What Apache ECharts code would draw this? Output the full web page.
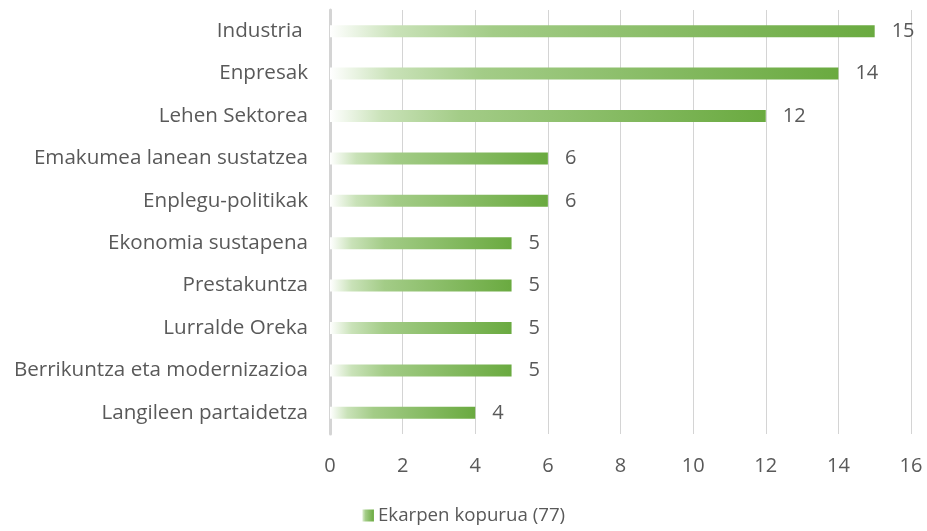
<!DOCTYPE html>
<html>
<head>
<meta charset="utf-8">
<script src="https://cdn.jsdelivr.net/npm/echarts@6/dist/echarts.min.js"></script>
<style>
  html, body { margin: 0; padding: 0; background: #fff; }
  #chart { width: 927px; height: 531px; }
</style>
</head>
<body>
<div id="chart"></div>
<script>
// Categories listed bottom to top (category axis starts at the bottom)
const categories = [
  'Langileen partaidetza',
  'Berrikuntza eta modernizazioa',
  'Lurralde Oreka',
  'Prestakuntza',
  'Ekonomia sustapena',
  'Enplegu-politikak',
  'Emakumea lanean sustatzea',
  'Lehen Sektorea',
  'Enpresak',
  'Industria '
];
const values = [4, 5, 5, 5, 5, 6, 6, 12, 14, 15];
const seriesName = 'Ekarpen kopurua (77)';
const xTicks = [0, 2, 4, 6, 8, 10, 12, 14, 16];

const FONT = '"Open Sans", sans-serif';
const TEXT = '#595959';
const SIZE = 20;

// Horizontal fade from white to green along each bar
const barGradient = new echarts.graphic.LinearGradient(0, 0, 1, 0, [
  { offset: 0, color: 'rgba(255,255,255,1)' },
  { offset: 0.12, color: '#c9e2b8' },
  { offset: 0.3, color: '#a3cc87' },
  { offset: 1, color: '#6aaa40' }
]);

const chart = echarts.init(document.getElementById('chart'), null, { renderer: 'canvas' });
chart.setOption({
  animation: false,
  textStyle: { fontFamily: FONT },
  grid: { left: 330, right: 16, top: 10, bottom: 97, containLabel: false },
  xAxis: {
    type: 'value',
    min: xTicks[0],
    max: xTicks[xTicks.length - 1],
    interval: 2,
    axisLine: { show: false },
    axisTick: { show: false },
    splitLine: { show: true, lineStyle: { color: '#d4d4d4', width: 1 } },
    axisLabel: { color: TEXT, fontSize: SIZE, fontFamily: FONT, margin: 22 }
  },
  yAxis: {
    type: 'category',
    data: categories,
    axisLine: { show: true, lineStyle: { color: '#d4d4d4', width: 3 } },
    axisTick: { show: false },
    axisLabel: { color: TEXT, fontSize: 20.6, fontFamily: FONT, margin: 22 }
  },
  legend: {
    bottom: 1,
    left: 'center',
    itemWidth: 12,
    itemHeight: 12,
    itemGap: 6,
    icon: 'rect',
    textStyle: { color: TEXT, fontSize: 18.7, fontFamily: FONT, padding: [0, 0, 0, -1] },
    data: [seriesName]
  },
  series: [{
    name: seriesName,
    type: 'bar',
    data: values,
    barWidth: 12,
    itemStyle: { color: barGradient },
    label: {
      show: true,
      position: 'right',
      distance: 17,
      color: TEXT,
      fontSize: SIZE,
      fontFamily: FONT
    }
  }]
});
</script>
</body>
</html>
